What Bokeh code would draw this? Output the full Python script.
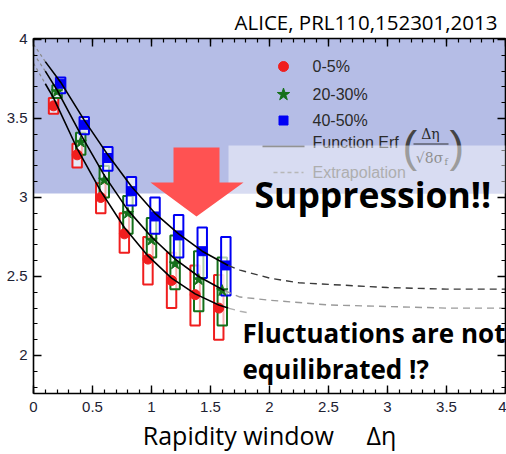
import numpy as np
from bokeh.plotting import figure
from bokeh.models import (Range1d, LinearAxis, SingleIntervalTicker, BoxAnnotation,
                          PolyAnnotation, Label, CustomJSTickFormatter)
from bokeh.embed import file_html
from bokeh.resources import INLINE

# ---------------- data ----------------
labels = ["0-5%", "20-30%", "40-50%"]

x_c0 = [0.17, 0.37, 0.57, 0.77, 0.97, 1.17, 1.37, 1.57]
y_c0 = [3.58, 3.27, 3.00, 2.77, 2.61, 2.475, 2.385, 2.30]
lo_c0 = [3.53, 3.19, 2.90, 2.65, 2.45, 2.30, 2.19, 2.10]
hi_c0 = [3.63, 3.34, 3.09, 2.90, 2.75, 2.65, 2.57, 2.51]

x_c1 = [0.20, 0.40, 0.60, 0.80, 1.00, 1.20, 1.40, 1.60]
y_c1 = [3.67, 3.35, 3.11, 2.90, 2.73, 2.58, 2.48, 2.41]
lo_c1 = [3.63, 3.27, 3.00, 2.77, 2.62, 2.42, 2.28, 2.19]
hi_c1 = [3.71, 3.41, 3.20, 3.01, 2.87, 2.76, 2.66, 2.62]

x_c2 = [0.23, 0.43, 0.63, 0.83, 1.03, 1.23, 1.43, 1.63]
y_c2 = [3.72, 3.46, 3.25, 3.04, 2.88, 2.76, 2.66, 2.57]
lo_c2 = [3.66, 3.40, 3.17, 2.95, 2.77, 2.62, 2.49, 2.38]
hi_c2 = [3.76, 3.51, 3.32, 3.13, 3.00, 2.89, 2.81, 2.75]

# fitted curves (solid part), extrapolations (dashed part)
fit_x_c0 = [0.10, 0.17, 0.37, 0.57, 0.77, 0.97, 1.17, 1.37, 1.57, 1.65]
fit_y_c0 = [3.72, 3.63, 3.31, 3.04, 2.81, 2.63, 2.49, 2.39, 2.32, 2.30]
ext_x_c0 = [1.65, 1.75, 1.82]
ext_y_c0 = [2.30, 2.28, 2.27]
pre_x_c0 = [0.0, 0.10]
pre_y_c0 = [3.85, 3.72]

fit_x_c1 = [0.10, 0.20, 0.40, 0.60, 0.80, 1.00, 1.20, 1.40, 1.62]
fit_y_c1 = [3.80, 3.68, 3.40, 3.14, 2.92, 2.75, 2.61, 2.50, 2.41]
ext_x_c1 = [1.62, 1.75, 2.0, 2.5, 3.0, 3.5, 4.0]
ext_y_c1 = [2.41, 2.37, 2.35, 2.32, 2.31, 2.30, 2.30]
pre_x_c1 = [0.0, 0.10]
pre_y_c1 = [3.91, 3.80]

fit_x_c2 = [0.10, 0.23, 0.43, 0.63, 0.83, 1.03, 1.23, 1.43, 1.65]
fit_y_c2 = [3.86, 3.73, 3.49, 3.27, 3.07, 2.90, 2.77, 2.66, 2.57]
ext_x_c2 = [1.65, 1.75, 2.0, 2.25, 2.5, 3.0, 3.5, 4.0]
ext_y_c2 = [2.57, 2.54, 2.49, 2.46, 2.45, 2.43, 2.42, 2.42]
pre_x_c2 = [0.0, 0.10]
pre_y_c2 = [3.97, 3.86]

colors = ["#f01e1e", "#15701a", "#0000f5"]
markers = ["circle", "star", "square"]
marker_sizes = [10, 12, 9]
box_half = 0.04

# ---------------- geometry helpers (reference pixels -> data) ----------------
FL, FT = 33.0, 38.0
PXU, PYU = 118.0, 158.0
Y_END = 4.0063
Y_START = Y_END - 355 / PYU


def px(X):
    return (X - FL) / PXU


def py(Y):
    return Y_END - (Y - FT) / PYU


p = figure(frame_width=472, frame_height=355,
           x_range=Range1d(0, 4), y_range=Range1d(Y_START, Y_END),
           output_backend="svg", toolbar_location=None,
           min_border_left=33, min_border_right=1, min_border_top=38, min_border_bottom=61)
p.xgrid.visible = False
p.ygrid.visible = False
p.outline_line_color = None
p.background_fill_color = "white"
p.border_fill_color = "white"

# title (reference text at top right)
p.title.text = "ALICE, PRL110,152301,2013"
p.title.align = "right"
p.title.text_font = "Open Sans"
p.title.text_font_size = "20.5px"
p.title.text_font_style = "normal"
p.title.text_color = "black"
p.title.standoff = 5
p.title.offset = 8


def style_axis(ax, show_labels):
    ax.ticker = SingleIntervalTicker(interval=0.5, num_minor_ticks=5)
    ax.axis_line_color = "black"
    ax.axis_line_width = 1.6
    ax.major_tick_line_color = "black"
    ax.minor_tick_line_color = "black"
    ax.major_tick_line_width = 1.4
    ax.minor_tick_line_width = 1.2
    ax.major_tick_in = 8
    ax.major_tick_out = 0
    ax.minor_tick_in = 4
    ax.minor_tick_out = 0
    if show_labels:
        ax.major_label_text_font = "Liberation Sans"
        ax.major_label_text_font_size = "15px"
        ax.major_label_text_color = "#1e2233"
    else:
        ax.formatter = CustomJSTickFormatter(code="return ''")
        ax.major_label_standoff = 0
        ax.major_label_text_font_size = "0px"


style_axis(p.xaxis[0], True)
style_axis(p.yaxis[0], True)
p.xaxis[0].major_label_standoff = 8
p.yaxis[0].major_label_standoff = 6
p.xaxis[0].major_label_overrides = {0: "0", 1: "1", 2: "2", 3: "3", 4: "4"}
p.yaxis[0].major_label_overrides = {2: "2", 3: "3", 4: "4"}
p.xaxis[0].axis_label = "Rapidity window\u00a0\u00a0\u00a0\u00a0\u00a0Δη"
p.xaxis[0].axis_label_text_font = "Open Sans"
p.xaxis[0].axis_label_text_font_style = "normal"
p.xaxis[0].axis_label_text_font_size = "25px"
p.xaxis[0].axis_label_text_color = "black"
p.xaxis[0].axis_label_standoff = 3

top_ax = LinearAxis()
right_ax = LinearAxis()
style_axis(top_ax, False)
style_axis(right_ax, False)
p.add_layout(top_ax, "above")
p.add_layout(right_ax, "right")

# blue shaded region
p.add_layout(BoxAnnotation(bottom=py(193), fill_color="#b5bde6", fill_alpha=1.0,
                           line_color=None, level="underlay"))

# ---------------- data marks ----------------
series = [
    (x_c0, y_c0, lo_c0, hi_c0),
    (x_c1, y_c1, lo_c1, hi_c1),
    (x_c2, y_c2, lo_c2, hi_c2),
]
for (xs, ys, lo, hi), c in zip(series, colors):
    xs = np.array(xs)
    p.quad(left=xs - box_half, right=xs + box_half, bottom=lo, top=hi,
           fill_color="white", fill_alpha=0.65, line_color=c, line_width=2)

for (xs, ys, lo, hi), c, m, s in zip(series, colors, markers, marker_sizes):
    p.scatter(xs, ys, marker=m, size=s, fill_color=c, line_color=c)

fits = [
    (pre_x_c0, pre_y_c0, fit_x_c0, fit_y_c0, ext_x_c0, ext_y_c0, "#b0b0b0"),
    (pre_x_c1, pre_y_c1, fit_x_c1, fit_y_c1, ext_x_c1, ext_y_c1, "#9a9a9a"),
    (pre_x_c2, pre_y_c2, fit_x_c2, fit_y_c2, ext_x_c2, ext_y_c2, "#3a3a3a"),
]
for prx, pry, fx, fy, ex, ey, dc in fits:
    p.line(prx, pry, line_color="#888888", line_width=1.2, line_dash="3 3")
    p.line(fx, fy, line_color="black", line_width=1.6)
    p.line(ex, ey, line_color=dc, line_width=1.4, line_dash="7 5")

# ---------------- legend ----------------
leg_y = [66, 94, 120]
for c, m, s, ly in zip(colors, markers, [10, 13, 9], leg_y):
    p.scatter([px(283)], [py(ly)], marker=m, size=s, fill_color=c, line_color=c)
p.line([px(262), px(304)], [py(146), py(146)], line_color="#333333", line_width=1.5)
p.line([px(273), px(303)], [py(172), py(172)], line_color="#777777", line_width=1.3, line_dash="4 3")
p.line([px(413), px(448)], [py(143.5), py(143.5)], line_color="#333333", line_width=1.2)

LEG_FONT = "Liberation Sans"
for t, ly in zip(labels, leg_y):
    p.add_layout(Label(x=px(312), y=py(ly), text=t, text_font=LEG_FONT, text_font_size="16px",
                       text_color="#2a2a2a", text_baseline="middle"))
p.add_layout(Label(x=px(312), y=py(142), text="Function Erf", text_font=LEG_FONT,
                   text_font_size="16px", text_color="#2a2a2a", text_baseline="middle"))
p.add_layout(Label(x=px(402), y=py(146), text="(", text_font=LEG_FONT, text_font_size="44px",
                   text_color="#444444", text_baseline="middle"))
p.add_layout(Label(x=px(449), y=py(146), text=")", text_font=LEG_FONT, text_font_size="44px",
                   text_color="#444444", text_baseline="middle"))
p.add_layout(Label(x=px(430), y=py(133), text="Δη", text_font="DejaVu Serif", text_font_size="14px",
                   text_color="#2a2a2a", text_baseline="middle", text_align="center"))
p.add_layout(Label(x=px(429), y=py(157), text="√8σ", text_font="DejaVu Serif", text_font_size="14px",
                   text_color="#2a2a2a", text_baseline="middle", text_align="center"))
p.add_layout(Label(x=px(444), y=py(161), text="f", text_font="DejaVu Serif", text_font_size="9px",
                   text_color="#2a2a2a", text_baseline="middle"))
p.add_layout(Label(x=px(312), y=py(172), text="Extrapolation", text_font=LEG_FONT,
                   text_font_size="16px", text_color="#666666", text_baseline="middle"))

# light band over the lower legend
p.add_layout(BoxAnnotation(left=px(228), bottom=py(193), top=py(145), fill_color="white",
                           fill_alpha=0.47, line_color=None))

# red down arrow
p.add_layout(PolyAnnotation(
    xs=[px(173), px(219), px(219), px(243), px(196), px(150), px(173)],
    ys=[py(147), py(147), py(182), py(182), py(216), py(182), py(182)],
    fill_color="#ff5252", fill_alpha=1.0, line_color=None))

# ---------------- texts ----------------
p.add_layout(Label(x=px(254), y=py(193), text="Suppression!!", text_font="Open Sans",
                   text_font_style="bold", text_font_size="35.5px", text_color="black",
                   text_baseline="alphabetic"))
p.add_layout(Label(x=px(242), y=py(332), text="Fluctuations are not", text_font="Open Sans",
                   text_font_style="bold", text_font_size="26px", text_color="black",
                   text_baseline="alphabetic"))
p.add_layout(Label(x=px(242), y=py(368), text="equilibrated !?", text_font="Open Sans",
                   text_font_style="bold", text_font_size="26px", text_color="black",
                   text_baseline="alphabetic"))

open("out.html", "w").write(file_html(p, INLINE))
